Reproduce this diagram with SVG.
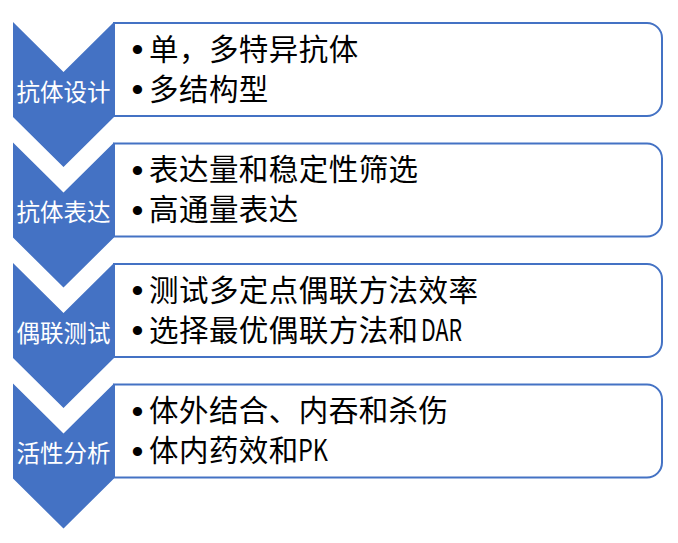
<svg xmlns="http://www.w3.org/2000/svg" width="678" height="543" viewBox="0 0 678 543">
<style>
.box{fill:#ffffff;stroke:#4472C4;stroke-width:2}
.chev{fill:#4472C4}
.lbl{font-family:"Noto Sans CJK SC","Noto Sans",sans-serif;font-size:23.5px;fill:#ffffff;text-anchor:middle}
.txt{font-family:"Noto Sans CJK SC","Noto Sans",sans-serif;font-size:29.5px;fill:#000000;letter-spacing:0.45px}
.lat{font-family:"Noto Sans CJK SC","Noto Sans",sans-serif;font-size:29.5px;fill:#000000}
.bul{font-family:"Liberation Sans",sans-serif;font-size:34px;fill:#000000;text-anchor:middle}
</style>
<rect width="678" height="543" fill="#ffffff"/>
<g id="node1">
<path class="box" d="M114,23 H647 A15,15 0 0 1 662,38 V101 A15,15 0 0 1 647,116 H114 Z"/>
<path class="chev" d="M13,22 L63.5,72 L114,22 L114,117 L63.5,167 L13,117 Z"/>
<text class="lbl" x="63.5" y="100.5">抗体设计</text>
<text class="bul" x="137.5" y="61">•</text>
<text class="txt" x="149" y="60">单，多特异抗体</text>
<text class="bul" x="137.5" y="101">•</text>
<text class="txt" x="149" y="100">多结构型</text>
</g>
<g id="node2">
<path class="box" d="M114,143.5 H647 A15,15 0 0 1 662,158.5 V221.5 A15,15 0 0 1 647,236.5 H114 Z"/>
<path class="chev" d="M13,142.5 L63.5,192.5 L114,142.5 L114,237.5 L63.5,287.5 L13,237.5 Z"/>
<text class="lbl" x="63.5" y="221">抗体表达</text>
<text class="bul" x="137.5" y="181.5">•</text>
<text class="txt" x="149" y="180">表达量和稳定性筛选</text>
<text class="bul" x="137.5" y="221.5">•</text>
<text class="txt" x="149" y="220">高通量表达</text>
</g>
<g id="node3">
<path class="box" d="M114,264 H647 A15,15 0 0 1 662,279 V342 A15,15 0 0 1 647,357 H114 Z"/>
<path class="chev" d="M13,263 L63.5,313 L114,263 L114,358 L63.5,408 L13,358 Z"/>
<text class="lbl" x="63.5" y="341.5">偶联测试</text>
<text class="bul" x="137.5" y="302">•</text>
<text class="txt" x="149" y="300.5">测试多定点偶联方法效率</text>
<text class="bul" x="137.5" y="342">•</text>
<text class="txt" x="149" y="340.5">选择最优偶联方法和</text>
<text class="lat" x="421" y="340.5" textLength="41" lengthAdjust="spacingAndGlyphs">DAR</text>
</g>
<g id="node4">
<path class="box" d="M114,384.5 H647 A15,15 0 0 1 662,399.5 V462.5 A15,15 0 0 1 647,477.5 H114 Z"/>
<path class="chev" d="M13,383.5 L63.5,433.5 L114,383.5 L114,478.5 L63.5,528.5 L13,478.5 Z"/>
<text class="lbl" x="63.5" y="462">活性分析</text>
<text class="bul" x="137.5" y="422.5">•</text>
<text class="txt" x="149" y="421">体外结合、内吞和杀伤</text>
<text class="bul" x="137.5" y="462.5">•</text>
<text class="txt" x="149" y="461">体内药效和</text>
<text class="lat" x="298" y="461" textLength="30" lengthAdjust="spacingAndGlyphs">PK</text>
</g>
<g id="connectors"></g>
</svg>
